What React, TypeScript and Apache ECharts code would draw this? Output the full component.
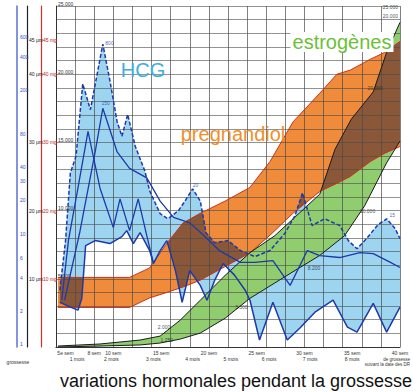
import React, { useEffect, useRef } from "react";
import * as echarts from "echarts";

type Pt = [number, number];

// ---------- axis ticks / labels ----------
const weekTicks = [5, 8, 10, 15, 20, 25, 30, 35, 40];
const monthTicks = [6.2, 9.8, 14.2, 18.3, 22.3, 26.3, 30.6, 35.0];
const monthLabels = ["1 mois", "2 mois", "3 mois", "4 mois", "5 mois", "6 mois", "7 mois", "8 mois"];
const valueTicks = [5, 10, 15, 20, 25]; // thousands
const hcgTicks = [1, 2, 4, 6, 10, 20, 30, 40, 80, 200, 400, 600];
const mgTicks = [10, 20, 30, 40, 45];

// ---------- pregnandiol band (thousands) ----------
const pregWeeks = [4.2, 11.7, 13.8, 15.6, 17.3, 19.1, 21.7, 24.3, 26.4, 28.8, 31.6, 33.4, 34.8, 36.9, 38.4, 40.0];
const pregHigh = [5.1, 5.1, 5.8, 7.6, 9.1, 9.8, 10.7, 11.7, 13.6, 16.5, 18.6, 20.0, 20.3, 21.1, 21.6, 22.4];
const pregLow = [2.9, 2.9, 3.6, 4.0, 4.4, 4.9, 5.9, 6.9, 8.2, 9.8, 11.4, 12.0, 12.5, 13.6, 14.2, 14.7];

// ---------- estrogen band ----------
const estHighWeeks = [4.2, 8.6, 12.8, 14.9, 17.0, 19.1, 21.7, 24.3, 26.9, 29.5, 31.6, 33.2, 34.9, 37.2, 38.6, 40.0];
const estHigh = [0.07, 0.22, 0.51, 0.8, 1.97, 3.43, 5.25, 6.92, 8.16, 9.84, 11.2, 14.5, 16.7, 18.7, 21.6, 23.8];
const estLowWeeks = [4.2, 8.6, 12.8, 14.9, 17.0, 19.1, 21.7, 24.3, 28.5, 31.6, 34.2, 36.3, 38.6, 40.0];
const estLow = [0, 0.07, 0.15, 0.29, 0.58, 1.02, 2.11, 3.57, 5.39, 6.71, 8.16, 10.35, 13.5, 15.1];

// ---------- HCG band ----------
const hcgHighWeeks = [4.4, 5.0, 5.5, 6.1, 6.8, 7.6, 8.9, 9.65, 10.4, 10.9, 11.5, 12.3, 13.3, 13.8, 14.9, 15.7, 16.8, 17.5, 18.3, 19.1, 19.7, 20.6, 22.0, 23.3, 24.8, 26.4, 28.0, 29.0, 29.8, 30.8, 32.1, 33.7, 34.6, 35.5, 36.5, 37.7, 38.6, 39.5, 40.0];
const hcgHigh = [4.16, 7.8, 12.76, 14.0, 19.3, 17.4, 22.2, 19.5, 16.5, 15.45, 17.05, 14.7, 12.9, 11.45, 9.77, 9.4, 9.98, 10.7, 11.6, 10.7, 8.38, 7.65, 7.8, 7.07, 6.63, 7.07, 8.38, 9.62, 11.3, 8.9, 9.4, 8.9, 7.8, 7.2, 7.95, 8.97, 9.4, 8.67, 7.95];
const hcgLowWeeks = [4.4, 5.5, 6.3, 6.7, 7.1, 8.1, 9.65, 10.9, 11.4, 12.1, 12.8, 13.8, 14.2, 14.9, 15.6, 16.5, 17.2, 18.0, 19.1, 19.8, 20.6, 21.5, 22.7, 23.8, 24.3, 25.3, 26.7, 28.2, 29.5, 31.1, 33.0, 34.5, 35.5, 37.2, 38.6, 40.0];
const hcgLow = [3.28, 2.92, 2.7, 3.57, 7.43, 7.8, 7.58, 8.09, 8.53, 7.58, 8.38, 7.07, 6.12, 7.07, 7.8, 5.61, 3.28, 5.61, 4.52, 3.43, 4.88, 6.12, 5.25, 4.16, 3.43, 0.51, 3.28, 0.51, 1.38, 2.55, 3.43, 1.46, 1.09, 3.2, 1.09, 2.92];
const hcgPeakWeeks = [4.6, 5.3, 6.3, 7.35, 8.6, 10.0, 10.7, 11.7, 12.6, 13.5, 14.2];
const hcgPeak = [3.43, 7.8, 11.66, 15.8, 11.66, 8.75, 10.86, 8.53, 10.86, 8.16, 6.12];
const hcgMedWeeks = [4.9, 6.5, 8.1, 8.9, 10.4, 11.7, 13.5, 14.9, 16.3, 18.0, 19.5, 21.1, 23.3, 24.8, 26.7, 28.5, 30.3, 31.6, 33.7, 35.8, 37.2, 39.0, 40.0];
const hcgMed = [3.43, 8.45, 14.3, 17.5, 14.3, 13.1, 12.4, 10.7, 9.5, 9.1, 8.16, 7.07, 6.2, 6.2, 6.34, 4.52, 7.07, 6.7, 6.56, 6.92, 6.85, 6.2, 5.83];

// ---------- small value notes ----------
const blueNoteWeeks = [9.6, 9.2, 18.6, 39.2];
const blueNoteValues = [22.3, 17.9, 11.9, 9.7];
const blueNoteTexts = ["800", "150", "20", "15"];
const darkNoteWeeks = [37.4, 36.6, 31.0, 23.4, 15.3, 15.6, 39.0, 39.0];
const darkNoteValues = [19.0, 10.0, 5.8, 2.9, 1.5, 0.5, 24.9, 24.3];
const darkNoteTexts = ["20.000", "10.000", "8.200", "3.300", "2.000", "1.250", "25.000", "20.000"];

const zip = (xs: number[], ys: number[]): Pt[] => xs.map((x, i) => [x, ys[i]] as Pt);

function interp(e: Pt[], x: number): number {
  if (x < e[0][0] - 1e-9 || x > e[e.length - 1][0] + 1e-9) return NaN;
  for (let i = 0; i < e.length - 1; i++) {
    const [x0, y0] = e[i];
    const [x1, y1] = e[i + 1];
    if (x >= x0 && x <= x1) return x1 === x0 ? y0 : y0 + ((y1 - y0) * (x - x0)) / (x1 - x0);
  }
  return e[e.length - 1][1];
}

function bandPoly(hi: Pt[], lo: Pt[]): Pt[] {
  return [...hi, ...lo.slice().reverse()];
}

function overlap(aHi: Pt[], aLo: Pt[], bHi: Pt[], bLo: Pt[]): Pt[][] {
  const edges = [aHi, aLo, bHi, bLo];
  const start = Math.max(...edges.map((e) => e[0][0]));
  const end = Math.min(...edges.map((e) => e[e.length - 1][0]));
  const xsSet: number[] = [];
  for (let x = start; x <= end + 1e-9; x += 0.02) xsSet.push(x);
  edges.forEach((e) => e.forEach((p) => { if (p[0] >= start && p[0] <= end) xsSet.push(p[0]); }));
  const xs = xsSet.sort((a, b) => a - b);
  const polys: Pt[][] = [];
  let hiPts: Pt[] = [];
  let loPts: Pt[] = [];
  const flush = () => {
    if (hiPts.length >= 2) polys.push([...hiPts, ...loPts.slice().reverse()]);
    hiPts = [];
    loPts = [];
  };
  xs.forEach((x) => {
    const hi = Math.min(interp(aHi, x), interp(bHi, x));
    const lo = Math.max(interp(aLo, x), interp(bLo, x));
    if (hi > lo) {
      hiPts.push([x, hi]);
      loPts.push([x, lo]);
    } else flush();
  });
  flush();
  return polys;
}

function polySeries(polys: Pt[][], color: string, z: number) {
  return {
    type: "custom",
    xAxisIndex: 0,
    yAxisIndex: 0,
    z,
    silent: true,
    clip: true,
    data: polys.map((p, i) => [p[0][0], p[0][1], i]),
    renderItem: (params: any, api: any) => {
      const poly = polys[params.dataIndex];
      return {
        type: "polygon",
        shape: { points: poly.map((p) => api.coord(p)) },
        style: { fill: color },
      };
    },
  };
}

function lineSeries(data: Pt[], color: string, width: number, z: number, dashed = false) {
  return {
    type: "line",
    xAxisIndex: 0,
    yAxisIndex: 0,
    data,
    z,
    silent: true,
    showSymbol: false,
    symbol: "none",
    lineStyle: { color, width, type: dashed ? [4, 2] : "solid" },
  };
}

function noteSeries(ws: number[], vs: number[], ts: string[], color: string) {
  return {
    type: "scatter",
    xAxisIndex: 0,
    yAxisIndex: 0,
    z: 12,
    silent: true,
    symbolSize: 1,
    itemStyle: { color: "rgba(0,0,0,0)" },
    data: ws.map((w, i) => [w, vs[i], ts[i]]),
    label: {
      show: true,
      position: "inside",
      formatter: (p: any) => p.data[2],
      fontSize: 5,
      color,
      fontFamily: "Liberation Sans, Arial, sans-serif",
    },
  };
}

const FONT = "Liberation Sans, Arial, sans-serif";

export default function App() {
  const ref = useRef<HTMLDivElement>(null);
  useEffect(() => {
    if (!ref.current) return;
    const chart = echarts.init(ref.current, undefined, { renderer: "svg" });

    const pregHi = zip(pregWeeks, pregHigh);
    const pregLo = zip(pregWeeks, pregLow);
    const estHi = zip(estHighWeeks, estHigh);
    const estLo = zip(estLowWeeks, estLow);
    const hcgHi = zip(hcgHighWeeks, hcgHigh);
    const hcgLo = zip(hcgLowWeeks, hcgLow);

    const brownA = overlap(pregHi, pregLo, hcgHi, hcgLo);
    const brownB = overlap(pregHi, pregLo, estHi, estLo);

    const option: any = {
      animation: false,
      backgroundColor: "#ffffff",
      textStyle: { fontFamily: FONT },
      grid: { left: 56, right: 13, top: 6, bottom: 45, containLabel: false },
      xAxis: [
        {
          type: "value",
          min: 4,
          max: 40,
          interval: 2,
          position: "bottom",
          z: 7,
          axisLine: { show: true, lineStyle: { color: "#333", width: 1 } },
          axisTick: { show: false },
          splitLine: { show: true, lineStyle: { color: "#4a4a4a", width: 0.7 } },
          axisLabel: {
            show: true,
            customValues: weekTicks,
            formatter: (v: number) => (v === 5 ? "5e sem" : v + " sem"),
            fontSize: 5,
            color: "#333",
            margin: 3,
          },
        },
        {
          type: "value",
          min: 4,
          max: 40,
          position: "bottom",
          offset: 6,
          z: 7,
          axisLine: { show: false },
          axisTick: { show: false },
          splitLine: { show: false },
          axisLabel: {
            show: true,
            customValues: monthTicks,
            formatter: (v: number) => monthLabels[monthTicks.indexOf(v)] || "",
            fontSize: 5,
            color: "#333",
            margin: 3,
          },
        },
      ],
      yAxis: [
        {
          type: "value",
          min: 0,
          max: 25,
          interval: 1,
          position: "left",
          z: 7,
          axisLine: { show: true, lineStyle: { color: "#333", width: 1 } },
          axisTick: { show: false },
          splitLine: { show: true, lineStyle: { color: "#4a4a4a", width: 0.6 } },
          axisLabel: {
            show: true,
            inside: true,
            customValues: valueTicks,
            formatter: (v: number) => v + ".000",
            fontSize: 5,
            color: "#333",
            verticalAlign: "bottom",
            margin: 2,
          },
        },
        {
          type: "log",
          logBase: 10,
          min: 0.94,
          max: 1150,
          position: "left",
          offset: 39,
          z: 7,
          axisLine: { show: true, lineStyle: { color: "#5a72d0", width: 1.5 } },
          axisTick: { show: false },
          splitLine: { show: false },
          axisLabel: {
            show: true,
            inside: true,
            customValues: hcgTicks,
            fontSize: 5,
            color: "#3550c0",
            margin: 3,
          },
        },
        {
          type: "value",
          min: 0,
          max: 50,
          position: "left",
          offset: 29,
          z: 7,
          axisLine: { show: true, lineStyle: { color: "#222", width: 1.2 } },
          axisTick: { show: false },
          splitLine: { show: false },
          axisLabel: {
            show: true,
            inside: true,
            customValues: mgTicks,
            formatter: (v: number) => v + " µm",
            fontSize: 5,
            color: "#222",
            margin: 2,
          },
        },
        {
          type: "value",
          min: 0,
          max: 50,
          position: "left",
          offset: 15,
          z: 7,
          axisLine: { show: true, lineStyle: { color: "#d03030", width: 1.2 } },
          axisTick: { show: false },
          splitLine: { show: false },
          axisLabel: {
            show: true,
            inside: true,
            customValues: mgTicks,
            formatter: (v: number) => v + " mg",
            fontSize: 5,
            color: "#c02020",
            margin: 2,
          },
        },
      ],
      series: [
        polySeries([bandPoly(hcgHi, hcgLo)], "#9dd5f1", 2),
        polySeries([bandPoly(estHi, estLo)], "#8fcd6f", 3),
        polySeries([bandPoly(pregHi, pregLo)], "#f08b3b", 4),
        polySeries(brownA, "#8a5838", 5),
        polySeries(brownB, "#8a5838", 5),
        lineSeries(pregHi, "#c8321e", 1, 8),
        lineSeries(pregLo, "#c8321e", 1, 8),
        lineSeries(estHi, "#1a1a1a", 1, 8),
        lineSeries(estLo, "#1a1a1a", 1, 8),
        lineSeries(hcgHi, "#1d3aa8", 1.5, 9, true),
        lineSeries(hcgLo, "#1d3aa8", 1.5, 9),
        lineSeries(zip(hcgPeakWeeks, hcgPeak), "#1d3aa8", 1.3, 9),
        lineSeries(zip(hcgMedWeeks, hcgMed), "#1d3aa8", 1.3, 9),
        noteSeries(blueNoteWeeks, blueNoteValues, blueNoteTexts, "#1d3aa8"),
        noteSeries(darkNoteWeeks, darkNoteValues, darkNoteTexts, "#222"),
      ],
      graphic: [
        { type: "text", x: 143, y: 70, z: 100, style: { text: "HCG", fontSize: 20, fontFamily: FONT, fill: "#3aaee2", align: "center", verticalAlign: "middle" } },
        { type: "text", x: 233, y: 134, z: 100, style: { text: "pregnandiol", fontSize: 20, fontFamily: FONT, fill: "#f0902a", align: "center", verticalAlign: "middle" } },
        { type: "text", x: 342, y: 42, z: 100, style: { text: "estrogènes", fontSize: 20, fontFamily: FONT, fill: "#6cbf3a", align: "center", verticalAlign: "middle", backgroundColor: "#ffffff", padding: [0, 2, 0, 2] } },
        { type: "text", x: 236, y: 381, z: 100, style: { text: "variations hormonales pendant la grossesse", fontSize: 18, fontFamily: FONT, fill: "#111", align: "center", verticalAlign: "middle" } },
        { type: "text", x: 18, y: 362, z: 100, style: { text: "grossesse", fontSize: 5, fontFamily: FONT, fill: "#333", align: "center", verticalAlign: "middle" } },
        { type: "text", x: 410, y: 357, z: 100, style: { text: "de grossesse\nsuivant la date des DR", fontSize: 4.5, fontFamily: FONT, fill: "#333", align: "right", verticalAlign: "top" } },
      ],
    };
    chart.setOption(option);
    return () => chart.dispose();
  }, []);
  return <div ref={ref} style={{ position: "absolute", left: 0, top: 0, width: 413, height: 392 }} />;
}
